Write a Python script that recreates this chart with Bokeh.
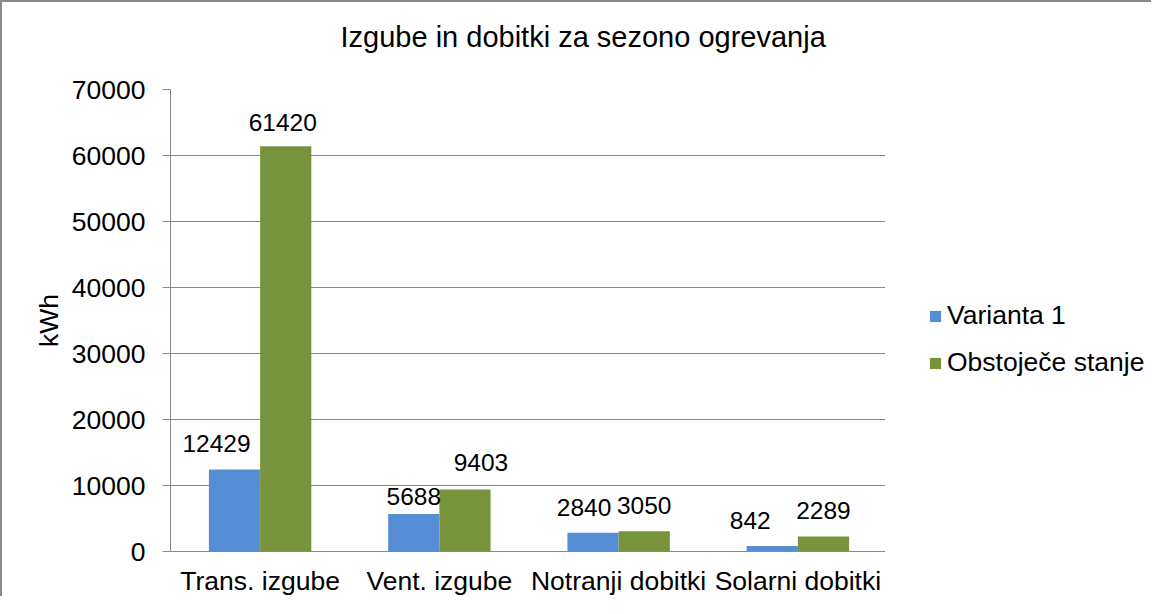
from bokeh.plotting import figure
from bokeh.layouts import row
from bokeh.models import (FactorRange, Range1d, ColumnDataSource, LabelSet, Legend,
                          LegendItem, FixedTicker, NumeralTickFormatter)
from bokeh.transform import dodge
from bokeh.core.properties import value
from bokeh.embed import file_html
from bokeh.resources import INLINE

# ---- data ----
categories = ["Trans. izgube", "Vent. izgube", "Notranji dobitki", "Solarni dobitki"]
series_names = ["Varianta 1", "Obstoječe stanje"]
varianta_1 = [12429, 5688, 2840, 842]
obstojece_stanje = [61420, 9403, 3050, 2289]
y_ticks = [0, 10000, 20000, 30000, 40000, 50000, 60000, 70000]
title_text = "Izgube in dobitki za sezono ogrevanja"
y_label = "kWh"

# ---- label nudges (screen px) ----
v1_dx = [-18, 0, -9, -22]
v1_dy = [17, 9, 17, 17]
ob_dx = [-3, 16, 0, 0]
ob_dy = [15, 18, 17, 17]

FONT = "Liberation Sans"
BLUE = "#558ED5"
GREEN = "#77933C"
GRAY = "#878787"
BORDER = "2px solid #8a8a8a"

src = ColumnDataSource(dict(
    cat=categories, v1=varianta_1, ob=obstojece_stanje,
    v1_txt=[str(v) for v in varianta_1], ob_txt=[str(v) for v in obstojece_stanje],
    v1_dx=v1_dx, v1_dy=v1_dy, ob_dx=ob_dx, ob_dy=ob_dy,
))

p = figure(width=885, height=596,
           x_range=FactorRange(factors=categories, range_padding=0),
           y_range=Range1d(0, 70000),
           output_backend="svg", toolbar_location=None,
           min_border_left=168, min_border_right=0,
           min_border_top=87, min_border_bottom=47)

p.background_fill_color = "white"
p.border_fill_color = "white"
p.outline_line_color = None
p.styles = {"border-left": BORDER, "border-top": BORDER}

# title (trailing empty line lifts the text inside its panel)
p.title.text = title_text + "\n"
p.title.text_font = FONT
p.title.text_font_size = "29px"
p.title.text_font_style = "normal"
p.title.text_color = "black"
p.title.text_line_height = 1.0
p.title.align = "left"
p.title.offset = 170
p.title.standoff = 10

# bars
r1 = p.vbar(x=dodge("cat", -1/7, range=p.x_range), top="v1", width=2/7,
            source=src, fill_color=BLUE, line_color=None)
r2 = p.vbar(x=dodge("cat", 1/7, range=p.x_range), top="ob", width=2/7,
            source=src, fill_color=GREEN, line_color=None)

# data labels
for col, txt, dx, dy, off in [("v1", "v1_txt", "v1_dx", "v1_dy", -1/7),
                              ("ob", "ob_txt", "ob_dx", "ob_dy", 1/7)]:
    ls = LabelSet(x=dodge("cat", off, range=p.x_range), y=col, text=txt,
                  x_offset=dx, y_offset=dy, source=src,
                  text_align="center", text_baseline="alphabetic",
                  text_font=value(FONT), text_font_size=value("24.5px"),
                  text_color="black")
    p.add_layout(ls)

# grid
p.xgrid.grid_line_color = None
p.ygrid.grid_line_color = GRAY
p.ygrid.grid_line_width = 1

# y axis
p.yaxis.ticker = FixedTicker(ticks=y_ticks)
p.yaxis.formatter = NumeralTickFormatter(format="0")
p.yaxis.axis_line_color = GRAY
p.yaxis.major_tick_line_color = GRAY
p.yaxis.major_tick_out = 8
p.yaxis.major_tick_in = 0
p.yaxis.minor_tick_line_color = None
p.yaxis.major_label_text_font = FONT
p.yaxis.major_label_text_font_size = "26.5px"
p.yaxis.major_label_text_color = "black"
p.yaxis.major_label_standoff = 17
p.yaxis.axis_label = y_label
p.yaxis.axis_label_text_font = FONT
p.yaxis.axis_label_text_font_size = "26.5px"
p.yaxis.axis_label_text_font_style = "normal"
p.yaxis.axis_label_text_color = "black"
p.yaxis.axis_label_standoff = 5

# x axis
p.xaxis.axis_line_color = GRAY
p.xaxis.major_tick_line_color = None
p.xaxis.major_tick_out = 0
p.xaxis.major_tick_in = 0
p.xaxis.minor_tick_line_color = None
p.xaxis.major_label_text_font = FONT
p.xaxis.major_label_text_font_size = "26.5px"
p.xaxis.major_label_text_color = "black"
p.xaxis.major_label_standoff = 14

# legend panel (separate canvas to the right of the plot area)
q = figure(width=266, height=596, x_range=Range1d(0, 1), y_range=Range1d(0, 1),
           output_backend="svg", toolbar_location=None,
           x_axis_location=None, y_axis_location=None,
           min_border=0)
q.grid.visible = False
q.outline_line_color = None
q.background_fill_color = "white"
q.border_fill_color = "white"
q.styles = {"border-top": BORDER}
# swatch renderers: one point each, placed outside the visible range
lr1 = q.vbar(x=[5], top=[5], width=0.1, fill_color=BLUE, line_color=None)
lr2 = q.vbar(x=[5], top=[5], width=0.1, fill_color=GREEN, line_color=None)

legend = Legend(items=[LegendItem(label=series_names[0], renderers=[lr1]),
                       LegendItem(label=series_names[1], renderers=[lr2])],
                location=(43, 173), orientation="vertical",
                glyph_width=14, glyph_height=14, label_height=30,
                label_standoff=5, spacing=16, padding=0, margin=0,
                border_line_color=None, background_fill_alpha=0,
                label_text_font=FONT, label_text_font_size="26.5px",
                label_text_color="black")
q.add_layout(legend)

layout = row(p, q, spacing=0)
open("out.html", "w").write(file_html(layout, INLINE))
